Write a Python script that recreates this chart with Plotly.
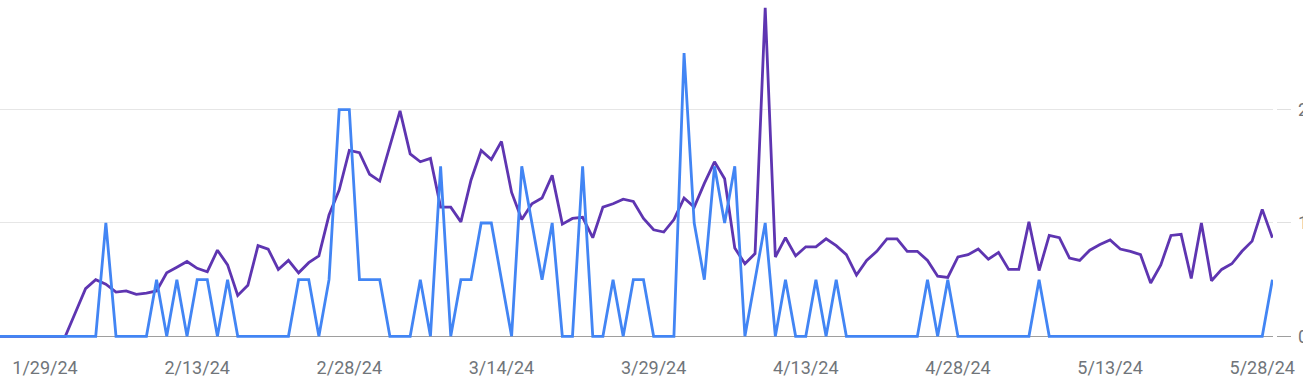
import plotly.graph_objects as go
import pandas as pd

# Daily dates 1/24/24 .. 5/29/24
dates = pd.date_range("2024-01-24", "2024-05-29", freq="D")

clicks = [
    0, 0, 0, 0, 0, 0, 0, 0, 0, 0, 0, 1, 0, 0, 0, 0, 0.5, 0, 0.5, 0,
    0.5, 0.5, 0, 0.5, 0, 0, 0, 0, 0, 0, 0.5, 0.5, 0, 0.5, 2, 2, 0.5, 0.5, 0.5, 0,
    0, 0, 0.5, 0, 1.5, 0, 0.5, 0.5, 1, 1, 0.5, 0, 1.5, 1, 0.5, 1, 0, 0, 1.5, 0,
    0, 0.5, 0, 0.5, 0.5, 0, 0, 0, 2.5, 1, 0.5, 1.5, 1, 1.5, 0, 0.5, 1, 0, 0.5, 0,
    0, 0.5, 0, 0.5, 0, 0, 0, 0, 0, 0, 0, 0, 0.5, 0, 0.5, 0, 0, 0, 0, 0,
    0, 0, 0, 0.5, 0, 0, 0, 0, 0, 0, 0, 0, 0, 0, 0, 0, 0, 0, 0, 0,
    0, 0, 0, 0, 0, 0, 0.5,
]

impressions = [
    0, 0, 0, 0, 0, 0, 0, 0, 0.21, 0.42, 0.50, 0.46, 0.39, 0.40, 0.37, 0.38, 0.40, 0.56, 0.61, 0.66,
    0.60, 0.57, 0.76, 0.63, 0.36, 0.45, 0.80, 0.77, 0.59, 0.67, 0.56, 0.65, 0.71, 1.07, 1.29, 1.64, 1.62, 1.43, 1.37, 1.67,
    1.99, 1.61, 1.54, 1.57, 1.14, 1.14, 1.01, 1.38, 1.64, 1.56, 1.72, 1.27, 1.03, 1.17, 1.22, 1.42, 0.99, 1.04, 1.05, 0.87,
    1.14, 1.17, 1.21, 1.19, 1.04, 0.94, 0.92, 1.03, 1.22, 1.14, 1.35, 1.54, 1.39, 0.78, 0.64, 0.73, 2.90, 0.70, 0.87, 0.71,
    0.79, 0.79, 0.86, 0.80, 0.72, 0.54, 0.67, 0.75, 0.86, 0.86, 0.75, 0.75, 0.67, 0.53, 0.52, 0.70, 0.72, 0.77, 0.68, 0.74,
    0.59, 0.59, 1.01, 0.58, 0.89, 0.87, 0.69, 0.67, 0.76, 0.81, 0.85, 0.77, 0.75, 0.72, 0.47, 0.63, 0.89, 0.90, 0.51, 1.00,
    0.49, 0.59, 0.64, 0.75, 0.84, 1.12, 0.87,
]

tick_dates = ["2024-01-29", "2024-02-13", "2024-02-28", "2024-03-14", "2024-03-29",
              "2024-04-13", "2024-04-28", "2024-05-13", "2024-05-28"]
tick_labels = ["1/29/24", "2/13/24", "2/28/24", "3/14/24", "3/29/24",
               "4/13/24", "4/28/24", "5/13/24", "5/28/24"]
y_ticks = [0, 1, 2, 3]
y_labels = ["0", "1", "2", "3"]

PURPLE = "#5e35b1"
BLUE = "#4285f4"
FONT = "Roboto"
LABEL_COLOR = "#70757a"
Y_RANGE = [-0.0327, 2.968]

fig = go.Figure()
fig.add_trace(go.Scatter(x=dates, y=impressions, mode="lines",
                         line=dict(color=PURPLE, width=2.8), yaxis="y",
                         hoverinfo="skip", showlegend=False))
fig.add_trace(go.Scatter(x=dates, y=clicks, mode="lines",
                         line=dict(color=BLUE, width=2.8), yaxis="y2",
                         hoverinfo="skip", showlegend=False))
fig.add_trace(go.Scatter(x=[], y=[], yaxis="y3", showlegend=False, hoverinfo="skip"))

fig.update_layout(
    width=1303, height=387, autosize=False,
    margin=dict(l=0, r=12, t=0, b=47, autoexpand=False),
    paper_bgcolor="white", plot_bgcolor="white",
    showlegend=False,
    xaxis=dict(
        domain=[0, 1273 / 1291], automargin=False,
        range=["2024-01-24 13:32", "2024-05-29 01:26"],
        tickvals=tick_dates, ticktext=tick_labels,
        showgrid=False, zeroline=False, showline=False, ticks="",
        tickfont=dict(family=FONT, size=18, color=LABEL_COLOR),
        ticklabelstandoff=15,
    ),
    yaxis=dict(
        range=Y_RANGE, tickvals=[1, 2, 3], showticklabels=False, automargin=False,
        showgrid=True, gridcolor="#e6e6e6", gridwidth=1,
        zeroline=True, zerolinecolor="#9e9e9e", zerolinewidth=1,
        showline=False, ticks="",
    ),
    yaxis2=dict(
        range=Y_RANGE, overlaying="y", anchor="free", position=1.0, side="right",
        automargin=False,
        tickvals=y_ticks, ticktext=y_labels,
        ticks="inside", ticklen=14, tickcolor="#e0e0e0", tickwidth=1,
        showgrid=False, zeroline=False, showline=False,
        tickfont=dict(family=FONT, size=18, color=LABEL_COLOR),
        ticklabelstandoff=6,
    ),
    yaxis3=dict(
        range=Y_RANGE, overlaying="y", anchor="free", position=1.0, side="right",
        automargin=False,
        tickvals=[0], ticks="inside", ticklen=14, tickcolor="#9e9e9e", tickwidth=1,
        showticklabels=False, showgrid=False, zeroline=False, showline=False,
    ),
)

fig.write_html(
    "out.html",
    config={"displayModeBar": False},
    post_script="document.body.style.margin='0';document.body.style.overflow='hidden';",
)
